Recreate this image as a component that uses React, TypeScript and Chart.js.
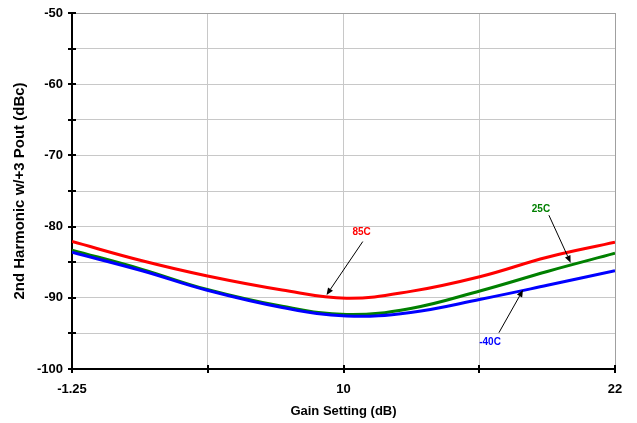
import React, { useEffect, useRef } from "react";
import { Chart, registerables } from "chart.js";

Chart.register(...registerables);

// ---- data ----
const gain = [-1.25, 1.75, 4.5, 7.75, 10.5, 13.25, 16.25, 19.1, 22];
const t85 = [-82.1, -84.8, -86.9, -88.9, -90.05, -89.1, -87.0, -84.3, -82.2];
const t25 = [-83.3, -86.0, -88.8, -91.2, -92.35, -91.5, -89.0, -86.3, -83.75];
const tm40 = [-83.6, -86.2, -88.9, -91.35, -92.55, -92.05, -90.2, -88.25, -86.2];

const xTickLabels = ["-1.25", "", "10", "", "22"];
const yTickLabels = ["-100", "", "-90", "", "-80", "", "-70", "", "-60", "", "-50"];

const annLabels = ["85C", "25C", "-40C"];
const annLabelX = [11.15, 18.83, 16.65];
const annLabelY = [-80.8, -77.5, -96.2];
const annFromX = [11.2, 19.17, 17.03];
const annFromY = [-82.1, -78.4, -94.9];
const annToX = [9.65, 20.1, 18.06];
const annToY = [-89.6, -85.07, -88.9];

const FONT = "'Liberation Sans', Arial, sans-serif";
const COLORS = ["#ff0000", "#008000", "#0000ff"];

const crossTicks = {
  id: "crossTicks",
  afterDraw(chart: any) {
    const ctx = chart.ctx;
    const xS = chart.scales.x;
    const yS = chart.scales.y;
    ctx.save();
    ctx.strokeStyle = "#000";
    ctx.lineWidth = 2;
    yS.ticks.forEach((t: any) => {
      const py = Math.round(yS.getPixelForValue(t.value));
      ctx.beginPath();
      ctx.moveTo(xS.left - 4, py);
      ctx.lineTo(xS.left + 4, py);
      ctx.stroke();
    });
    xS.ticks.forEach((t: any) => {
      const px = Math.round(xS.getPixelForValue(t.value));
      ctx.beginPath();
      ctx.moveTo(px, yS.bottom - 4);
      ctx.lineTo(px, yS.bottom + 4);
      ctx.stroke();
    });
    // annotations
    ctx.font = `bold 10px ${FONT}`;
    ctx.textAlign = "center";
    ctx.textBaseline = "middle";
    annLabels.forEach((txt, i) => {
      const lx = xS.getPixelForValue(annLabelX[i]);
      const ly = yS.getPixelForValue(annLabelY[i]);
      ctx.fillStyle = COLORS[i];
      ctx.fillText(txt, lx, ly);
      const fx = xS.getPixelForValue(annFromX[i]);
      const fy = yS.getPixelForValue(annFromY[i]);
      const tx = xS.getPixelForValue(annToX[i]);
      const ty = yS.getPixelForValue(annToY[i]);
      const ang = Math.atan2(ty - fy, tx - fx);
      const hl = 7;
      const hw = 3;
      const bx = tx - hl * Math.cos(ang);
      const by = ty - hl * Math.sin(ang);
      ctx.strokeStyle = "#000";
      ctx.lineWidth = 1;
      ctx.beginPath();
      ctx.moveTo(fx, fy);
      ctx.lineTo(bx, by);
      ctx.stroke();
      ctx.fillStyle = "#000";
      ctx.beginPath();
      ctx.moveTo(tx, ty);
      ctx.lineTo(bx + hw * Math.sin(ang), by - hw * Math.cos(ang));
      ctx.lineTo(bx - hw * Math.sin(ang), by + hw * Math.cos(ang));
      ctx.closePath();
      ctx.fill();
    });
    ctx.restore();
  },
};

export default function App() {
  const ref = useRef<HTMLCanvasElement | null>(null);
  useEffect(() => {
    document.body.style.margin = "0";
    const canvas = ref.current;
    if (!canvas) return;
    const mk = (label: string, data: number[], color: string) => ({
      label,
      data: gain.map((g, i) => ({ x: g, y: data[i] })),
      borderColor: color,
      backgroundColor: color,
      borderWidth: 3,
      pointRadius: 0,
      fill: false,
      tension: 0.4,
    });
    const chart = new Chart(canvas, {
      type: "line",
      data: {
        datasets: [
          mk("-40C", tm40, COLORS[2]),
          mk("25C", t25, COLORS[1]),
          mk("85C", t85, COLORS[0]),
        ],
      },
      plugins: [crossTicks],
      options: {
        animation: false,
        responsive: true,
        maintainAspectRatio: false,
        layout: { padding: { top: 13, right: 22, left: 0, bottom: 0 } },
        plugins: { legend: { display: false }, tooltip: { enabled: false } },
        scales: {
          x: {
            type: "linear",
            min: -1.25,
            max: 22,
            afterBuildTicks: (scale: any) => {
              const mn = scale.min;
              const mx = scale.max;
              scale.ticks = xTickLabels.map((_, i) => ({ value: mn + (i * (mx - mn)) / (xTickLabels.length - 1) }));
            },
            afterFit: (scale: any) => {
              scale.height = 54;
              scale.paddingLeft = 0;
              scale.paddingRight = 0;
            },
            grid: {
              drawTicks: false,
              color: (c: any) => (c.index === xTickLabels.length - 1 ? "#a0a0a0" : "#c8c8c8"),
              lineWidth: 1,
            },
            border: { display: true, color: "#000", width: 2 },
            ticks: {
              padding: 13,
              maxRotation: 0,
              autoSkip: false,
              color: "#000",
              font: { family: FONT, size: 13, weight: "bold" },
              callback: (_v: any, i: number) => xTickLabels[i],
            },
            title: {
              display: true,
              text: "Gain Setting (dB)",
              color: "#000",
              font: { family: FONT, size: 13, weight: "bold" },
              padding: { top: 0, bottom: 4 },
            },
          },
          y: {
            type: "linear",
            min: -100,
            max: -50,
            afterFit: (scale: any) => {
              scale.width = 72;
              scale.paddingTop = 0;
              scale.paddingBottom = 0;
            },
            grid: {
              drawTicks: false,
              color: (c: any) => (c.tick && c.tick.value === -50 ? "#a0a0a0" : "#c8c8c8"),
              lineWidth: 1,
            },
            border: { display: true, color: "#000", width: 2 },
            ticks: {
              stepSize: 5,
              padding: 9,
              autoSkip: false,
              color: "#000",
              font: { family: FONT, size: 13, weight: "bold" },
              callback: (_v: any, i: number) => yTickLabels[i],
            },
            title: {
              display: true,
              text: "2nd Harmonic w/+3 Pout (dBc)",
              color: "#000",
              font: { family: FONT, size: 15, weight: "bold" },
              padding: { top: 11, bottom: 0 },
            },
          },
        },
      },
    });
    return () => chart.destroy();
  }, []);
  return (
    <div style={{ width: 637, height: 423, position: "relative" }}>
      <canvas ref={ref} />
    </div>
  );
}
